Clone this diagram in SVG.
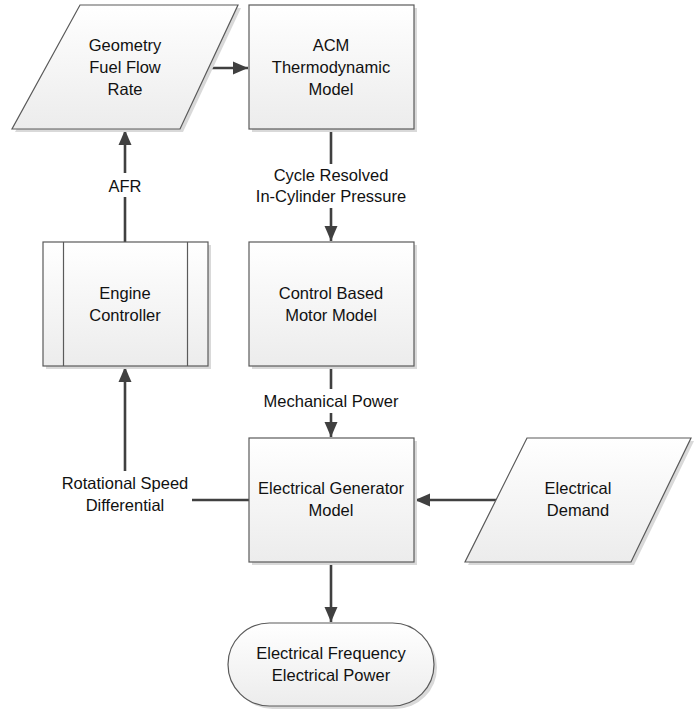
<svg xmlns="http://www.w3.org/2000/svg" width="696" height="710" viewBox="0 0 696 710">
<style>
.shape{fill:url(#g);stroke:#5a5a5a;stroke-width:1.2}
.sh{fill:#d9d9d9}
.t{font-family:"Liberation Sans",Arial,sans-serif;font-size:16.5px;fill:#111;text-anchor:middle}
.c{fill:none;stroke:#404040;stroke-width:2.6}
.bg{fill:#fff}
</style>
<defs>
<linearGradient id="g" x1="0" y1="0" x2="0" y2="1">
<stop offset="0" stop-color="#ffffff"/>
<stop offset="1" stop-color="#ececec"/>
</linearGradient>
<marker id="a" markerUnits="userSpaceOnUse" markerWidth="16" markerHeight="16" viewBox="0 0 16 16" refX="15" refY="8" orient="auto">
<path d="M0,1.5 L15,8 L0,14.5 z" fill="#404040"/>
</marker>
</defs>
<rect width="696" height="710" fill="#fff"/>
<g id="connectors">
<path class="c" d="M208,68 L248,68" marker-end="url(#a)"/>
<path class="c" d="M125,242 L125,130" marker-end="url(#a)"/>
<path class="c" d="M331,129 L331,241" marker-end="url(#a)"/>
<path class="c" d="M331,366 L331,437" marker-end="url(#a)"/>
<path class="c" d="M249,500 L125,500 L125,367" marker-end="url(#a)"/>
<path class="c" d="M497,500 L415,500" marker-end="url(#a)"/>
<path class="c" d="M331,562 L331,622" marker-end="url(#a)"/>
<rect class="bg" x="100" y="173" width="50" height="24"/>
<rect class="bg" x="256" y="164" width="150" height="44"/>
<rect class="bg" x="252" y="389" width="158" height="24"/>
<rect class="bg" x="56" y="471" width="136" height="46"/>
<text class="t" x="125" y="192">AFR</text>
<text class="t" x="331" y="181">Cycle Resolved</text>
<text class="t" x="331" y="202">In-Cylinder Pressure</text>
<text class="t" x="331" y="407">Mechanical Power</text>
<text class="t" x="125" y="489">Rotational Speed</text>
<text class="t" x="125" y="511">Differential</text>
</g>
<g id="geometry">
<polygon class="sh" points="83,8 241,8 183,132 15,132"/>
<polygon class="shape" points="80,5 238,5 180,129 12,129"/>
<text class="t" x="125" y="51">Geometry</text>
<text class="t" x="125" y="73">Fuel Flow</text>
<text class="t" x="125" y="95">Rate</text>
</g>
<g id="acm">
<rect class="sh" x="252" y="8" width="165" height="124"/>
<rect class="shape" x="249" y="5" width="165" height="124"/>
<text class="t" x="331" y="51">ACM</text>
<text class="t" x="331" y="73">Thermodynamic</text>
<text class="t" x="331" y="95">Model</text>
</g>
<g id="engine">
<rect class="sh" x="46" y="245" width="165" height="124"/>
<rect class="shape" x="43" y="242" width="165" height="124"/>
<line x1="63.5" y1="242" x2="63.5" y2="366" stroke="#5a5a5a" stroke-width="1.2"/>
<line x1="187.5" y1="242" x2="187.5" y2="366" stroke="#5a5a5a" stroke-width="1.2"/>
<text class="t" x="125" y="299">Engine</text>
<text class="t" x="125" y="321">Controller</text>
</g>
<g id="motor">
<rect class="sh" x="252" y="245" width="165" height="124"/>
<rect class="shape" x="249" y="242" width="165" height="124"/>
<text class="t" x="331" y="299">Control Based</text>
<text class="t" x="331" y="321">Motor Model</text>
</g>
<g id="generator">
<rect class="sh" x="252" y="441" width="165" height="124"/>
<rect class="shape" x="249" y="438" width="165" height="124"/>
<text class="t" x="331" y="494">Electrical Generator</text>
<text class="t" x="331" y="516">Model</text>
</g>
<g id="demand">
<polygon class="sh" points="530,441 694,441 634,565 468,565"/>
<polygon class="shape" points="527,438 691,438 631,562 465,562"/>
<text class="t" x="578" y="494">Electrical</text>
<text class="t" x="578" y="516">Demand</text>
</g>
<g id="output">
<rect class="sh" x="231" y="626" width="206" height="83" rx="41.5"/>
<rect class="shape" x="228" y="623" width="206" height="83" rx="41.5"/>
<text class="t" x="331" y="659">Electrical Frequency</text>
<text class="t" x="331" y="681">Electrical Power</text>
</g>
</svg>
